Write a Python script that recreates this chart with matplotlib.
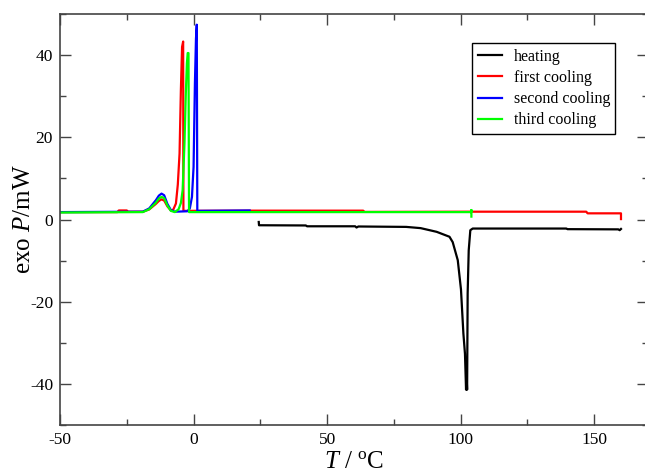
import matplotlib
matplotlib.use("Agg")
import matplotlib.pyplot as plt
from matplotlib.ticker import MultipleLocator

# DSC traces: temperature (°C) and heat flow (mW), exothermic up
heat_T = [24.4, 24.5, 42, 42.5, 60.5, 61, 61.7, 79.6, 85, 91, 95.8, 97, 98.9,
          100.1, 101, 101.6, 102, 102.2, 102.4, 102.6, 103, 103.6, 104.5,
          139.5, 140, 159, 159.5, 160]
heat_P = [-0.6, -1.4, -1.45, -1.65, -1.65, -1.95, -1.7, -1.8, -2.1, -3.0,
          -4.2, -5.5, -9.9, -17, -27.7, -32.7, -41.4, -38, -41.4, -18, -7.5,
          -2.6, -2.2, -2.2, -2.35, -2.4, -2.6, -2.3]

cool1_T = [160, 160, 147.5, 147, 104, 64, 63.5, 21, -3.8, -3.9, -4.3, -4.75,
           -5.25, -5.9, -6.6, -7.6, -8.5, -9.8, -11, -12, -13, -14.1, -16.6,
           -19, -24.5, -25, -28, -28.5, -50]
cool1_P = [0.1, 1.5, 1.5, 1.9, 1.9, 1.85, 2.15, 2.15, 2.1, 43.3, 42, 31.5,
           16, 8.5, 3.9, 2.4, 2.2, 3.2, 4.6, 4.9, 4.5, 3.8, 2.45, 1.9, 1.9,
           2.2, 2.2, 1.8, 1.8]

cool2_T = [21, 1.4, 1.2, 0.9, 0.5, 0.0, -0.6, -1.4, -2.3, -7, -8.5, -9.8,
           -11, -12, -13, -14.1, -16.6, -19, -50]
cool2_P = [2.2, 2.1, 47.4, 44, 33, 12.8, 5.5, 2.7, 2.0, 1.9, 2.3, 3.8, 5.9,
           6.3, 5.8, 4.7, 2.7, 1.9, 1.8]

cool3_T = [104, 104, 104, 103.8, -1.7, -1.9, -2.2, -2.5, -2.9, -3.4, -4.1,
           -4.75, -5.6, -7, -8.5, -9.8, -11, -12, -13, -14.1, -16.6, -19, -50]
cool3_P = [0.7, 2.3, 1.9, 1.8, 1.8, 40.5, 40.5, 38, 30.7, 18.5, 7.1, 4.0,
           2.5, 1.8, 2.1, 3.4, 5.2, 5.5, 5.1, 4.1, 2.5, 1.8, 1.7]

labels = ["heating", "first cooling", "second cooling", "third cooling"]

plt.rcParams['font.family'] = 'Liberation Serif'
plt.rcParams['mathtext.fontset'] = 'custom'
plt.rcParams['mathtext.rm'] = 'Liberation Serif'
plt.rcParams['mathtext.it'] = 'Liberation Serif:italic'
plt.rcParams['axes.unicode_minus'] = False

fig = plt.figure(figsize=(6.45, 4.75), dpi=100)
ax = fig.add_axes([60/645, 50/475, (647.7-60)/645, (425-14)/475])

ax.plot(heat_T, heat_P, color='black', lw=1.6, label=labels[0])
ax.plot(cool1_T, cool1_P, color='#ff0000', lw=1.6, label=labels[1])
ax.plot(cool2_T, cool2_P, color='#0000ff', lw=1.6, label=labels[2])
ax.plot(cool3_T, cool3_P, color='#00ff00', lw=1.6, label=labels[3])

ax.set_xlim(-50, 170)
ax.set_ylim(-50, 50)
ax.xaxis.set_major_locator(MultipleLocator(50))
ax.xaxis.set_minor_locator(MultipleLocator(25))
ax.yaxis.set_major_locator(MultipleLocator(20))
ax.yaxis.set_minor_locator(MultipleLocator(10))
ax.tick_params(which='both', direction='in', top=True, right=True,
               width=1, color='#444444', labelsize=12.5, pad=5)
ax.tick_params(which='major', length=8)
ax.tick_params(which='minor', length=4)
for sp in ax.spines.values():
    sp.set_linewidth(1.2)
    sp.set_color('#444444')

ax.set_xlabel(r'$T$ / $^{\mathrm{o}}$C', fontsize=18, labelpad=2)
ax.set_ylabel(r'exo $P$/mW', fontsize=18, labelpad=-4)

leg = ax.legend(loc='upper left', bbox_to_anchor=(472/645, 1-43/475),
                bbox_transform=fig.transFigure, borderaxespad=0,
                fontsize=11.5, fancybox=False, framealpha=1,
                edgecolor='black', handlelength=1.55, handletextpad=0.7,
                labelspacing=0.33, borderpad=0.35)
leg.get_frame().set_linewidth(1)

fig.savefig('out.png', dpi=100)
